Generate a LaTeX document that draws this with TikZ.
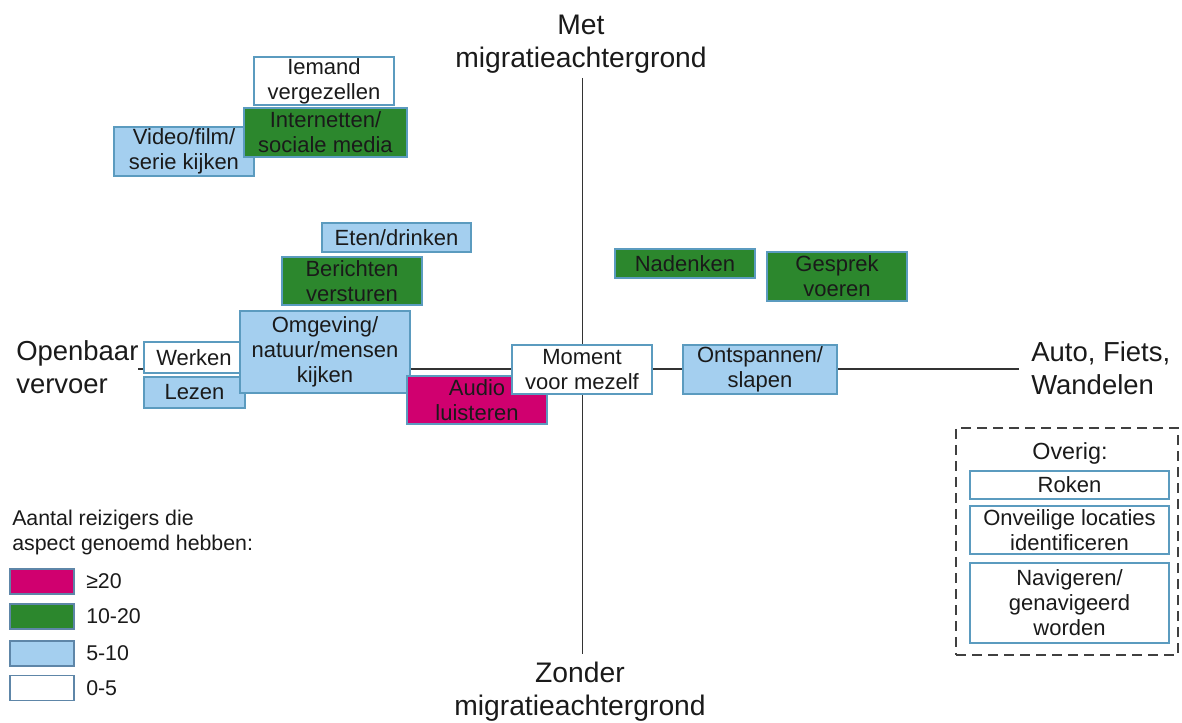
\documentclass[tikz,border=0pt]{standalone}
\usepackage{fontspec}
\setmainfont{Liberation Sans}
\definecolor{lblue}{HTML}{A4CFEF}
\definecolor{dgreen}{HTML}{2C872D}
\definecolor{magentafill}{HTML}{D0006F}
\definecolor{boxline}{HTML}{5B9BBF}
\definecolor{swline}{HTML}{5E86A8}
\definecolor{axisgray}{HTML}{333333}
\definecolor{dashgray}{HTML}{404040}
\definecolor{ink}{HTML}{1A1A1A}
\newcommand\figboxfont{\fontsize{16.5}{18.75}\selectfont}
\newcommand\figaxisfont{\fontsize{20.6}{24.5}\selectfont}
\newcommand\figvaxisfont{\fontsize{21.2}{24.5}\selectfont}
\newcommand\figlegfont{\fontsize{16}{18.75}\selectfont}
\begin{document}
\begin{tikzpicture}[x=0.75pt,y=-0.75pt,
  sz/.style 2 args={minimum width=#1*0.75pt,minimum height=#2*0.75pt},
  box/.style={draw=boxline,line width=0.9pt,inner sep=0pt,align=center,font=\figboxfont,text=ink},
  whitebox/.style={box,fill=white},
  bluebox/.style={box,fill=lblue},
  greenbox/.style={box,fill=dgreen},
  pinkbox/.style={box,fill=magentafill},
  axislabel/.style={inner sep=0pt,font=\figaxisfont,text=ink},
  axisline/.style={draw=axisgray,line width=1.4pt},
  swatch/.style={draw=swline,line width=1.3pt,sz={64}{25},inner sep=0pt},
  leglabel/.style={inner sep=0pt,anchor=west,font=\figlegfont,text=ink},
  ]
\useasboundingbox (0,0) rectangle (1182,723);

% axes
\coordinate (vtop) at (582.5,78);
\coordinate (vbot) at (582.5,654);
\coordinate (hleft) at (138,369);
\coordinate (hright) at (1019,369);
\draw[axisline] (vtop) -- (vbot);
\draw[axisline] (hleft) -- (hright);

% axis labels
\node[axislabel,font=\figvaxisfont,align=center] (met) at (581,44) {Met\\migratieachtergrond};
\node[axislabel,font=\figvaxisfont,align=center] (zonder) at (580,692) {Zonder\\migratieachtergrond};
\node[axislabel,align=left,anchor=west] (ov) at (16,367) {Openbaar\\vervoer};
\node[axislabel,align=left,anchor=west] (afw) at (1031,368) {Auto, Fiets,\\Wandelen};

% activities
\node[whitebox,sz={140}{48}] (iemand) at (324,81) {Iemand\\vergezellen};
\node[bluebox,sz={140}{49}] (video) at (184,151.5) {Video/film/\\serie kijken};
\node[greenbox,sz={163}{49}] (internet) at (325.5,132.5) {Internetten/\\sociale media};
\node[bluebox,sz={149}{29}] (eten) at (396.5,237.5) {Eten/drinken};
\node[greenbox,sz={140}{48}] (berichten) at (352,281) {Berichten\\versturen};
\node[whitebox,sz={100}{31}] (werken) at (194,357.5) {Werken};
\node[bluebox,sz={101}{31}] (lezen) at (194.5,392.5) {Lezen};
\node[bluebox,sz={170}{82}] (omgeving) at (325,352) {Omgeving/\\natuur/mensen\\kijken};
\node[pinkbox,sz={140}{48}] (audio) at (477,400) {Audio\\luisteren};
\node[whitebox,sz={140}{49}] (moment) at (582,369.5) {Moment\\voor mezelf};
\node[greenbox,sz={140}{29}] (nadenken) at (685,263.5) {Nadenken};
\node[greenbox,sz={140}{49}] (gesprek) at (837,276.5) {Gesprek\\voeren};
\node[bluebox,sz={154}{49}] (ontspannen) at (760,369.5) {Ontspannen/\\slapen};

% legend
\node[inner sep=0pt,anchor=west,align=left,font=\figlegfont,text=ink] (legtitle) at (12,532.5)
  {Aantal reizigers die\\aspect genoemd hebben:};
\node[swatch,fill=magentafill] (s20) at (42,581.5) {};
\node[swatch,fill=dgreen] (s10) at (42,616.5) {};
\node[swatch,fill=lblue] (s5) at (42,653.5) {};
\node[swatch,fill=white] (s0) at (42,688) {};
\node[leglabel] (l20) at (86,581.5) {≥20};
\node[leglabel] (l10) at (86,616.5) {10-20};
\node[leglabel] (l5) at (86,653.5) {5-10};
\node[leglabel] (l0) at (86,688) {0-5};

% other activities
\node[draw=dashgray,line width=1.1pt,dash pattern=on 7.5pt off 4.5pt,sz={222}{227}] (otherbox) at (1067,541.5) {};
\node[inner sep=0pt,font=\fontsize{17.5}{21}\selectfont,text=ink] (overig) at (1070,453) {Overig:};
\node[whitebox,sz={199}{28}] (roken) at (1069.5,485) {Roken};
\node[whitebox,sz={199}{48}] (onveilig) at (1069.5,530) {Onveilige locaties\\identificeren};
\node[whitebox,sz={199}{80}] (navigeren) at (1069.5,603) {Navigeren/\\genavigeerd\\worden};
\end{tikzpicture}
\end{document}
